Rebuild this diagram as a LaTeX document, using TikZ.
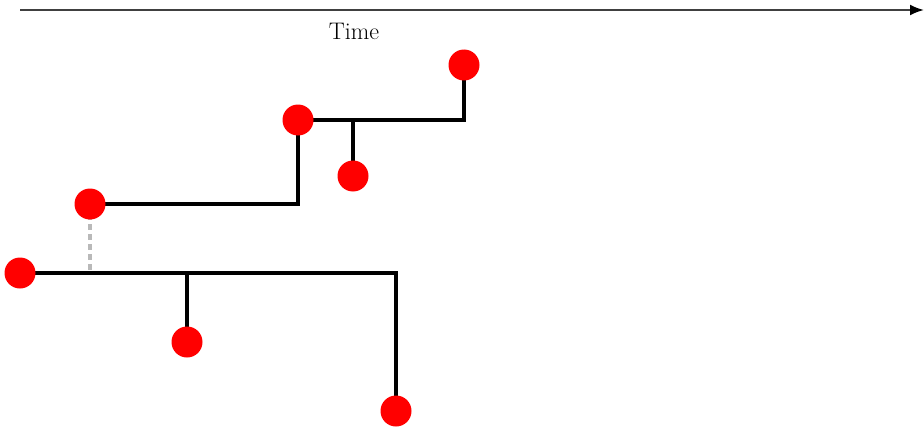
\documentclass[tikz,border=0pt]{standalone}
\usetikzlibrary{arrows.meta}
\begin{document}
\begin{tikzpicture}[x=1pt,y=-1pt,
  event/.style={circle,fill=red,inner sep=0pt,minimum size=31pt},
  branch/.style={line width=3.4pt,line cap=rect},
  link/.style={line width=3.2pt,gray!55,dash pattern=on 6pt off 4pt},
  axis/.style={line width=2.2pt,black!75,-{Latex[length=14pt,width=11pt,black]}}]
\useasboundingbox (0,0) rectangle (924,428);
% time axis
\coordinate (t0) at (20,10);
\coordinate (t1) at (924,10);
\draw[axis] (t0) -- (t1);
\node (timelabel) at (354,31) {\fontsize{24}{28}\selectfont Time};
% junction points
\coordinate (j1) at (90,273);
\coordinate (j2) at (187,273);
\coordinate (j3) at (396,273);
\coordinate (k1) at (298,204);
\coordinate (m1) at (353,120);
\coordinate (m2) at (464,120);
% lower tree
\draw[branch] (20,273) -- (j3) -- (396,411);
\draw[branch] (j2) -- (187,342);
% middle branch
\draw[link] (90,204) -- (j1);
\draw[branch] (90,204) -- (k1) -- (298,120);
% upper branch
\draw[branch] (298,120) -- (m2) -- (464,65);
\draw[branch] (m1) -- (353,176);
% events
\node[event] (a) at (20,273) {};
\node[event] (b) at (187,342) {};
\node[event] (c) at (396,411) {};
\node[event] (d) at (90,204) {};
\node[event] (e) at (298,120) {};
\node[event] (f) at (353,176) {};
\node[event] (g) at (464,65) {};
\end{tikzpicture}
\end{document}
